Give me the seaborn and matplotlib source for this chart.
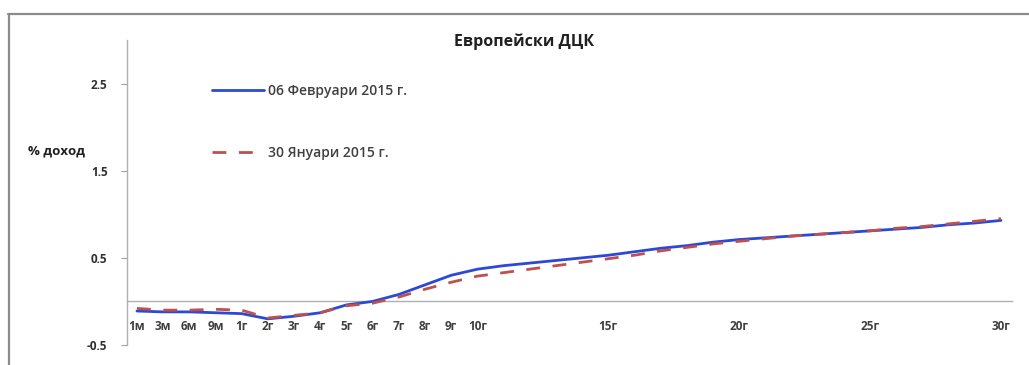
import numpy as np
import pandas as pd
import matplotlib
matplotlib.use("Agg")
import matplotlib.pyplot as plt
from matplotlib.lines import Line2D
import seaborn as sns

# Maturities on the curve: months, then every year up to 30
maturities = ["1м", "3м", "6м", "9м"] + [f"{y}г" for y in range(1, 31)]
shown_labels = {"1м", "3м", "6м", "9м", "1г", "2г", "3г", "4г", "5г", "6г",
                "7г", "8г", "9г", "10г", "15г", "20г", "25г", "30г"}

# Yields, % (06 February 2015)
yield_feb06 = [-0.11, -0.12, -0.12, -0.13, -0.14, -0.20, -0.17, -0.13, -0.04, 0.00,
               0.08, 0.19, 0.30, 0.37, 0.41, 0.44, 0.47, 0.50, 0.53, 0.57,
               0.61, 0.64, 0.68, 0.71, 0.73, 0.75, 0.77, 0.79, 0.81, 0.83,
               0.85, 0.88, 0.90, 0.93]
# Yields, % (30 January 2015)
yield_jan30 = [-0.08, -0.10, -0.10, -0.09, -0.10, -0.19, -0.16, -0.13, -0.05, -0.02,
               0.05, 0.14, 0.22, 0.29, 0.33, 0.37, 0.41, 0.45, 0.49, 0.53,
               0.58, 0.62, 0.66, 0.69, 0.72, 0.75, 0.77, 0.79, 0.81, 0.84,
               0.86, 0.89, 0.92, 0.95]

series_names = ["06 Февруари 2015 г.", "30 Януари 2015 г."]
title_text = "Европейски ДЦК"
ylabel_text = "% доход"
y_ticks = [-0.5, 0.5, 1.5, 2.5]

df = pd.DataFrame({
    "pos": np.tile(np.arange(len(maturities)), 2),
    "value": yield_feb06 + yield_jan30,
    "series": [series_names[0]] * len(maturities) + [series_names[1]] * len(maturities),
})

sns.set_theme(style="white")
plt.rcParams["font.family"] = ["Open Sans", "DejaVu Sans"]

fig = plt.figure(figsize=(10.29, 3.65), dpi=100)
ax = fig.add_axes([127 / 1029, 20 / 365, 885 / 1029, 305 / 365])

blue = "#2B49D6"
red = "#C0504D"

sns.lineplot(data=df[df.series == series_names[0]], x="pos", y="value",
             ax=ax, color=blue, linewidth=2.0, label=series_names[0], zorder=3)
sns.lineplot(data=df[df.series == series_names[1]], x="pos", y="value",
             ax=ax, color=red, linewidth=2.0, label=series_names[1], zorder=4)
ax.lines[1].set_dashes([5.0, 4.5])

ax.set_xlim(-0.38, 33.42)
ax.set_ylim(-0.5, 3.0)

# Category axis crosses at zero
ax.set_xticks(np.arange(len(maturities)))
ax.set_xticklabels([m if m in shown_labels else "" for m in maturities])
ax.tick_params(axis="x", length=0, pad=13.5, labelsize=8.5, labelcolor="#404040")
ax.set_yticks(y_ticks)
ax.set_yticklabels([str(v) for v in y_ticks])
ax.tick_params(axis="y", length=4, width=0.8, color="#a0a0a0", pad=10, left=True,
               labelsize=8.5, labelcolor="#303030")

for side in ("top", "right"):
    ax.spines[side].set_visible(False)
ax.spines["bottom"].set_position(("data", 0))
ax.spines["bottom"].set_color("#b0b0b0")
ax.spines["bottom"].set_linewidth(1.0)
ax.spines["left"].set_color("#b0b0b0")
ax.spines["left"].set_linewidth(1.0)

ax.set_xlabel("")
ax.set_ylabel(ylabel_text, rotation=0, fontsize=9.5, fontweight="bold",
              color="#202020", ha="left", va="center")
ax.yaxis.set_label_coords(-0.112, 0.635)

leg = ax.legend(loc="upper left", bbox_to_anchor=(0.0815, 0.898), frameon=False,
                prop={"size": 10, "weight": "semibold"},
                handlelength=3.8, handletextpad=0.25,
                labelspacing=3.45, labelcolor="#404040")
for line in leg.get_lines():
    line.set_linewidth(2.0)

fig.text(524 / 1029, 1 - 42 / 365, title_text, ha="center", va="center",
         fontsize=11.5, fontweight="bold", color="#202020")

# Outer frame of the chart area
fig.add_artist(Line2D([8 / 1029, 1.0], [1 - 14 / 365, 1 - 14 / 365],
                      transform=fig.transFigure, color="#8c8c8c", linewidth=1.6))
fig.add_artist(Line2D([8.5 / 1029, 8.5 / 1029], [0.0, 1 - 14 / 365],
                      transform=fig.transFigure, color="#8c8c8c", linewidth=1.6))

fig.canvas.draw()
for lbl in ax.get_xticklabels() + ax.get_yticklabels():
    lbl.set_fontweight("bold")

fig.savefig("out.png", dpi=100, facecolor="white")
